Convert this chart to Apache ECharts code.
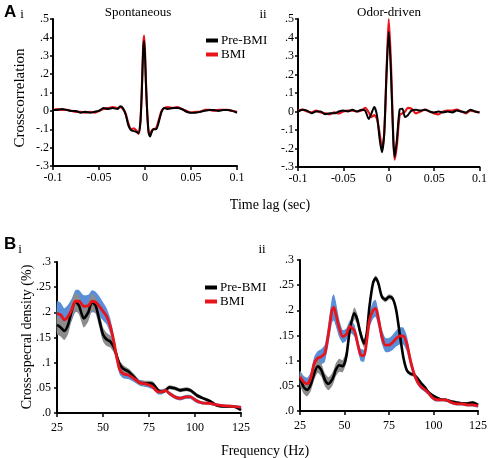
<!DOCTYPE html>
<html><head><meta charset="utf-8">
<script src="https://cdn.jsdelivr.net/npm/echarts@6/dist/echarts.min.js"></script>
<style>html,body{margin:0;padding:0;background:#fff}#c{width:490px;height:458px}</style>
</head><body><div id="c"></div>
<script>
// ---------- DATA ----------
const spontLag = [-0.1,-0.095,-0.09,-0.085,-0.08,-0.075,-0.07,-0.065,-0.06,-0.055,-0.05,-0.045,-0.04,-0.035,-0.03,-0.027,-0.024,-0.021,-0.018,-0.015,-0.012,-0.009,-0.007,-0.005,-0.0035,-0.002,-0.001,0,0.001,0.0025,0.004,0.0055,0.007,0.009,0.012,0.015,0.018,0.021,0.025,0.03,0.035,0.04,0.045,0.05,0.055,0.06,0.065,0.07,0.075,0.08,0.085,0.09,0.095,0.1];
const spontPre = [0.005,0.005,0.01,0.005,0,0,-0.01,-0.005,-0.01,-0.005,0,0.015,0.01,0.015,0.01,0.025,0.015,-0.02,-0.08,-0.105,-0.11,-0.115,-0.12,-0.06,0.1,0.33,0.38,0.3,0.15,-0.02,-0.12,-0.14,-0.12,-0.1,-0.1,-0.06,-0.005,0.015,0.01,0.015,0.015,0.01,-0.005,-0.01,-0.01,-0.005,0,0.005,0.005,0,0.005,0.005,0,-0.01];
const spontBmi = [0.005,0.01,0.005,0.005,0,-0.005,-0.005,-0.01,-0.005,-0.01,0,0.01,0.015,0.02,0.015,0.02,0.01,-0.015,-0.07,-0.1,-0.095,-0.11,-0.125,-0.06,0.11,0.35,0.41,0.32,0.16,-0.02,-0.12,-0.13,-0.11,-0.1,-0.095,-0.05,0,0.015,0.02,0.015,0.02,0.01,0,-0.01,-0.005,-0.005,0.005,0.005,0,0.005,0.005,0.005,0,-0.005];

const odorLag = [-0.1,-0.095,-0.09,-0.085,-0.08,-0.075,-0.07,-0.065,-0.06,-0.055,-0.05,-0.045,-0.04,-0.035,-0.03,-0.026,-0.022,-0.019,-0.016,-0.013,-0.01,-0.0075,-0.005,-0.0025,0,0.0025,0.005,0.0065,0.009,0.012,0.015,0.018,0.021,0.025,0.03,0.035,0.04,0.045,0.05,0.055,0.06,0.065,0.07,0.075,0.08,0.085,0.09,0.095,0.1];
const odorPre = [0,0.01,0.005,-0.01,0,0,-0.015,-0.01,-0.01,0,0.005,0,0.01,0,0.01,0.005,-0.04,-0.01,0.025,-0.02,-0.15,-0.22,-0.12,0.2,0.43,0.2,-0.15,-0.245,-0.15,0.01,0.015,-0.03,-0.02,0.005,0.01,0.005,0.01,0,-0.005,0,-0.005,0,-0.005,0.005,0,-0.005,0.01,0,-0.005];
const odorBmi = [0.005,0.01,0,-0.005,0.005,-0.005,-0.01,-0.015,-0.005,-0.01,0,0.005,0.005,0,0.005,0.02,-0.005,-0.03,-0.02,-0.04,-0.12,-0.2,-0.12,0.2,0.5,0.25,-0.15,-0.26,-0.18,-0.02,-0.01,0,0.02,0.015,-0.01,0,0.01,0,-0.01,-0.015,0,0.005,0.005,0.01,0,-0.01,0.005,0,-0.005];

const freqI = [25,27,29,31,33,35,37,39.5,42,44,46,48,50,52,54,56,57.5,59,61,64,67,70,74,77,80,82,84,86,89,92,95,97.5,101,104,108,112,116,121,125];
const csdPreI = [0.175,0.17,0.163,0.175,0.203,0.221,0.213,0.188,0.2,0.22,0.213,0.185,0.156,0.146,0.142,0.13,0.113,0.097,0.088,0.082,0.071,0.06,0.059,0.058,0.045,0.042,0.045,0.051,0.049,0.045,0.047,0.045,0.035,0.03,0.024,0.015,0.013,0.013,0.006];
const csdBmiI = [0.198,0.195,0.185,0.192,0.205,0.222,0.222,0.212,0.213,0.222,0.22,0.212,0.202,0.192,0.172,0.14,0.11,0.087,0.078,0.075,0.068,0.06,0.057,0.052,0.042,0.042,0.045,0.039,0.032,0.029,0.032,0.032,0.024,0.02,0.019,0.016,0.014,0.013,0.011];
const semPreI = [0.018,0.018,0.018,0.018,0.018,0.018,0.018,0.018,0.018,0.017,0.016,0.015,0.014,0.013,0.012,0.011,0.01,0.008,0.007,0.006,0.006,0.005,0.005,0.005,0.004,0.004,0.004,0.004,0.004,0.004,0.004,0.004,0.004,0.003,0.003,0.003,0.003,0.003,0.003];
const semBmiI = [0.024,0.024,0.023,0.023,0.022,0.022,0.022,0.022,0.022,0.022,0.021,0.02,0.018,0.016,0.015,0.013,0.011,0.01,0.009,0.008,0.007,0.006,0.006,0.005,0.005,0.005,0.004,0.004,0.004,0.004,0.004,0.004,0.004,0.003,0.003,0.003,0.003,0.003,0.003];

const freqII = [25,27,29,31,33,35,37,39,41,43,44,45,47,49,51,53,55.5,57,59,61,62.5,64,66,67.5,69,71,73,75,77,79,81,83,85,87,89,91,93,95,97,99,101,104,107,110,113,116,119,122,125];
const csdPreII = [0.065,0.048,0.042,0.052,0.075,0.089,0.081,0.062,0.054,0.062,0.07,0.081,0.091,0.089,0.108,0.161,0.194,0.184,0.154,0.134,0.154,0.207,0.254,0.264,0.254,0.227,0.221,0.227,0.224,0.201,0.154,0.108,0.081,0.074,0.072,0.065,0.055,0.048,0.038,0.032,0.028,0.023,0.022,0.019,0.017,0.015,0.015,0.017,0.012];
const csdBmiII = [0.068,0.058,0.054,0.065,0.095,0.105,0.108,0.115,0.154,0.201,0.206,0.195,0.165,0.148,0.152,0.168,0.16,0.14,0.112,0.11,0.14,0.18,0.2,0.204,0.184,0.148,0.131,0.131,0.136,0.144,0.149,0.149,0.134,0.101,0.075,0.058,0.048,0.043,0.036,0.028,0.023,0.022,0.022,0.017,0.014,0.014,0.012,0.012,0.01];
const semPreII = [0.014,0.013,0.013,0.013,0.013,0.013,0.013,0.013,0.013,0.013,0.013,0.013,0.013,0.012,0.012,0.012,0.012,0.011,0.01,0.008,0.007,0.006,0.005,0.005,0.005,0.005,0.005,0.005,0.005,0.005,0.005,0.004,0.004,0.004,0.004,0.004,0.004,0.004,0.003,0.003,0.003,0.003,0.003,0.003,0.003,0.003,0.003,0.003,0.003];
const semBmiII = [0.012,0.012,0.012,0.012,0.013,0.014,0.015,0.017,0.021,0.025,0.026,0.025,0.018,0.013,0.012,0.012,0.012,0.012,0.012,0.012,0.013,0.015,0.017,0.017,0.016,0.015,0.014,0.014,0.015,0.016,0.017,0.017,0.016,0.012,0.008,0.006,0.005,0.005,0.004,0.004,0.004,0.003,0.003,0.003,0.003,0.003,0.003,0.003,0.003];

const lagTicks = {min: -0.1, max: 0.1, interval: 0.05};
const ccTicks = {min: -0.3, max: 0.5, interval: 0.1};
const freqTicks = {min: 25, max: 125, interval: 25};
const csdTicks = {min: 0, max: 0.3, interval: 0.05};

// ---------- STYLE ----------
const SERIF = 'Liberation Serif';
const BLACK = '#000000', RED = '#e8141c', BLUE = '#5a8fd8', GRAY = '#8c8c8c';
const zip = (xs, ys) => xs.map((x, i) => [x, ys[i]]);

function xAx(idx, t, fmt, margin) {
  return {gridIndex: idx, type: 'value', min: t.min, max: t.max, interval: t.interval,
    axisLine: {show: true, onZero: false, lineStyle: {color: '#000', width: 2}},
    axisTick: {show: true, inside: false, length: 4, lineStyle: {color: '#000', width: 1.5}},
    splitLine: {show: false},
    axisLabel: {color: '#000', fontFamily: SERIF, fontSize: 12, margin: margin, formatter: fmt, showMinLabel: true, showMaxLabel: true}};
}
function yAx(idx, t, fmt, margin) {
  return {gridIndex: idx, type: 'value', min: t.min, max: t.max, interval: t.interval,
    axisLine: {show: true, onZero: false, lineStyle: {color: '#000', width: 2}},
    axisTick: {show: true, inside: false, length: 3, lineStyle: {color: '#000', width: 1.5}},
    splitLine: {show: false},
    axisLabel: {color: '#000', fontFamily: SERIF, fontSize: 12, margin: margin, formatter: fmt, showMinLabel: true, showMaxLabel: true}};
}
const lagFmt = v => { const r = Number(v.toFixed(2)); return r === 0 ? '0' : String(r); };
const ccFmt = v => { const n = Math.round(v * 10); return n === 0 ? '0' : (n < 0 ? '-' : '') + '.' + Math.abs(n); };
const freqFmt = v => String(Math.round(v));
const csdFmt = v => { const n = Math.round(v * 100); if (n === 0) return '.0'; if (n % 10 === 0) return '.' + (n / 10); return '.' + (n < 10 ? '0' + n : n); };

function line(name, idx, data, color, width) {
  return {name, type: 'line', xAxisIndex: idx, yAxisIndex: idx, data, smooth: 0.25, showSymbol: false, symbol: 'none',
    lineStyle: {color, width}, itemStyle: {color}, z: 5};
}
// shaded SEM band drawn as a polygon through the axis scales
function band(name, idx, xs, ys, sem, color) {
  const data = xs.map((x, i) => [x, ys[i] - sem[i], ys[i] + sem[i]]);
  return {name, type: 'custom', xAxisIndex: idx, yAxisIndex: idx, silent: true, z: 2,
    encode: {x: 0, y: [1, 2]}, data,
    renderItem: function (params, api) {
      if (params.dataIndexInside !== 0) return null;
      const upper = data.map(d => api.coord([d[0], d[2]]));
      const lower = data.slice().reverse().map(d => api.coord([d[0], d[1]]));
      return {type: 'group', children: [
        {type: 'polygon', shape: {points: upper.concat(lower), smooth: 0.2}, style: {fill: color, stroke: null}}
      ]};
    }};
}
function txt(text, x, y, size, opts) {
  opts = opts || {};
  return {type: 'text', x: x, y: y, rotation: opts.rot || 0, z: 100,
    style: {text: text, fill: '#000', fontFamily: opts.font || SERIF, fontSize: size, fontWeight: opts.bold ? 'bold' : 'normal', align: opts.align || 'center', verticalAlign: 'middle'}};
}

const chart = echarts.init(document.getElementById('c'), null, {renderer: 'canvas'});
chart.setOption({
  animation: false,
  backgroundColor: '#fff',
  grid: [
    {left: 53, top: 19, width: 184, height: 147},
    {left: 298, top: 19, width: 185, height: 148},
    {left: 57, top: 262, width: 184, height: 151},
    {left: 300, top: 260, width: 184, height: 151}
  ],
  xAxis: [xAx(0, lagTicks, lagFmt, 6), xAx(1, lagTicks, lagFmt, 6), xAx(2, freqTicks, freqFmt, 9), xAx(3, freqTicks, freqFmt, 9)],
  yAxis: [yAx(0, ccTicks, ccFmt, 4), yAx(1, ccTicks, ccFmt, 4), yAx(2, csdTicks, csdFmt, 6), yAx(3, csdTicks, csdFmt, 6)],
  legend: [
    {data: ['Pre-BMI', 'BMI'], orient: 'vertical', left: 201, top: 29, itemWidth: 12, itemHeight: 4, itemGap: 1, icon: 'rect',
     textStyle: {fontFamily: SERIF, fontSize: 13, color: '#000', padding: [0, 0, 0, -2]}, selectedMode: false},
    {data: ['Pre-BMI', 'BMI'], orient: 'vertical', left: 200, top: 276, itemWidth: 12, itemHeight: 4, itemGap: 1, icon: 'rect',
     textStyle: {fontFamily: SERIF, fontSize: 13, color: '#000', padding: [0, 0, 0, -2]}, selectedMode: false}
  ],
  series: [
    line('BMI', 0, zip(spontLag, spontBmi), RED, 2.2),
    line('Pre-BMI', 0, zip(spontLag, spontPre), BLACK, 2),
    line('BMI', 1, zip(odorLag, odorBmi), RED, 2.2),
    line('Pre-BMI', 1, zip(odorLag, odorPre), BLACK, 2),
    band('bmiBandI', 2, freqI, csdBmiI, semBmiI, BLUE),
    band('preBandI', 2, freqI, csdPreI, semPreI, GRAY),
    line('Pre-BMI', 2, zip(freqI, csdPreI), BLACK, 2.6),
    line('BMI', 2, zip(freqI, csdBmiI), RED, 2.8),
    band('bmiBandII', 3, freqII, csdBmiII, semBmiII, BLUE),
    band('preBandII', 3, freqII, csdPreII, semPreII, GRAY),
    line('Pre-BMI', 3, zip(freqII, csdPreII), BLACK, 2.6),
    line('BMI', 3, zip(freqII, csdBmiII), RED, 2.8)
  ],
  graphic: [
    txt('A', 4, 12, 17, {font: 'Liberation Sans', bold: true, align: 'left'}),
    txt('i', 22, 15, 13),
    txt('ii', 263, 15, 13),
    txt('Spontaneous', 138, 13, 13),
    txt('Odor-driven', 389, 13, 13),
    txt('Crosscorrelation', 20, 98, 15, {rot: Math.PI / 2}),
    txt('Time lag (sec)', 270, 205, 14),
    txt('B', 4, 244, 17, {font: 'Liberation Sans', bold: true, align: 'left'}),
    txt('i', 20, 250, 13),
    txt('ii', 262, 250, 13),
    txt('Cross-specral density (%)', 27, 337, 14, {rot: Math.PI / 2}),
    txt('Frequency (Hz)', 265, 451, 14)
  ]
});
</script>
</body></html>
